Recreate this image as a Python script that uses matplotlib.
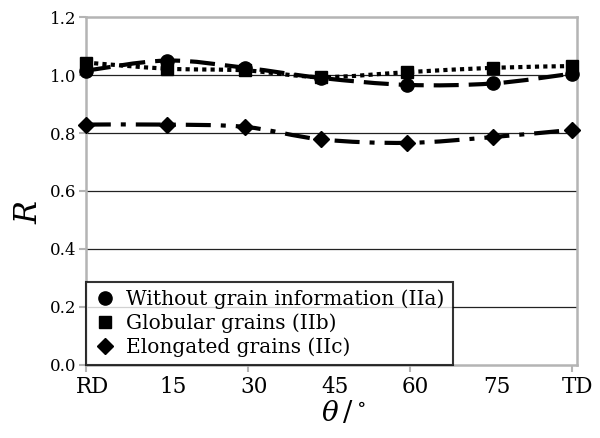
import numpy as np
import matplotlib
matplotlib.use("Agg")
import matplotlib.pyplot as plt
from matplotlib.path import Path
from matplotlib.patches import PathPatch

# data
theta = [0, 15, 29.5, 43.5, 59.5, 75.3, 90]
r_a = [1.015, 1.05, 1.025, 0.99, 0.966, 0.971, 1.005]
r_b = [1.043, 1.022, 1.016, 0.993, 1.01, 1.025, 1.031]
r_c = [0.829, 0.829, 0.821, 0.778, 0.766, 0.786, 0.811]
xlabels = ["RD", "15", "30", "45", "60", "75", "TD"]
names = ["Without grain information (IIa)", "Globular grains (IIb)",
         "Elongated grains (IIc)"]

plt.rcParams["font.family"] = "DejaVu Serif"
plt.rcParams["mathtext.fontset"] = "dejavuserif"

grey = "#b4b4b4"


def smooth_path(x, y):
    # Catmull-Rom style bezier through the points (like a smoothed line)
    p = np.column_stack([x, y]).astype(float)
    n = len(p)
    verts = [p[0]]
    codes = [Path.MOVETO]
    for i in range(n - 1):
        p0 = p[i - 1] if i > 0 else p[i]
        p3 = p[i + 2] if i + 2 < n else p[i + 1]
        c1 = p[i] + (p[i + 1] - p0) / 6
        c2 = p[i + 1] - (p3 - p[i]) / 6
        verts += [c1, c2, p[i + 1]]
        codes += [Path.CURVE4] * 3
    return Path(verts, codes)


fig = plt.figure(figsize=(6, 4.38), dpi=100)
ax = fig.add_axes([0.143, 0.167, 0.819, 0.794])

lw = 3.0
styles = [(0, (6, 2.4)), (0, (1, 1)), (0, (6, 2.4, 1.2, 2.4))]
markers = [("o", 9.5), ("s", 8.5), ("D", 8.5)]
for y, ls, (m, ms), name in zip([r_a, r_b, r_c], styles, markers, names):
    patch = PathPatch(smooth_path(theta, y), fill=False, edgecolor="black",
                      lw=lw, linestyle=ls, capstyle="butt", zorder=3)
    ax.add_patch(patch)
    ax.plot(theta, y, linestyle="none", marker=m, ms=ms, color="black",
            label=name, zorder=4, clip_on=False)

ax.set_xlim(0, 90)
ax.set_ylim(0, 1.2)

ax.set_yticks(np.arange(0, 1.21, 0.2))
ax.set_yticklabels([f"{v:.1f}" for v in np.arange(0, 1.21, 0.2)], fontsize=12)
ax.set_xticks([0, 30, 60, 90])
ax.set_xticklabels([])
ax.set_xticks(np.linspace(1.3, 90.9, 7), xlabels, minor=True)
ax.tick_params(axis="x", which="minor", length=0, labelsize=15.5, pad=8)
ax.tick_params(axis="both", which="major", color=grey, width=1.5, length=5)
ax.tick_params(axis="y", pad=2)

for y in [0.2, 0.4, 0.6, 0.8, 1.0]:
    ax.axhline(y, color="#222222", lw=0.9, zorder=1)

for s in ax.spines.values():
    s.set_color(grey)
    s.set_linewidth(1.8)

ax.set_ylabel("$R$", fontsize=22)
ax.yaxis.set_label_coords(-0.085, 0.44)
ax.set_xlabel(r"$\theta\,/\,^{\circ}$", fontsize=20)
ax.xaxis.set_label_coords(0.525, -0.1)

leg = ax.legend(loc="lower left", bbox_to_anchor=(0, 0), fontsize=14.5,
                frameon=True, fancybox=False, handlelength=1.1,
                handletextpad=0.5, borderpad=0.4, labelspacing=0.2,
                borderaxespad=0)
leg.get_frame().set_edgecolor("black")
leg.get_frame().set_linewidth(1.5)
leg.set_zorder(5)

fig.savefig("out.png", dpi=100)
